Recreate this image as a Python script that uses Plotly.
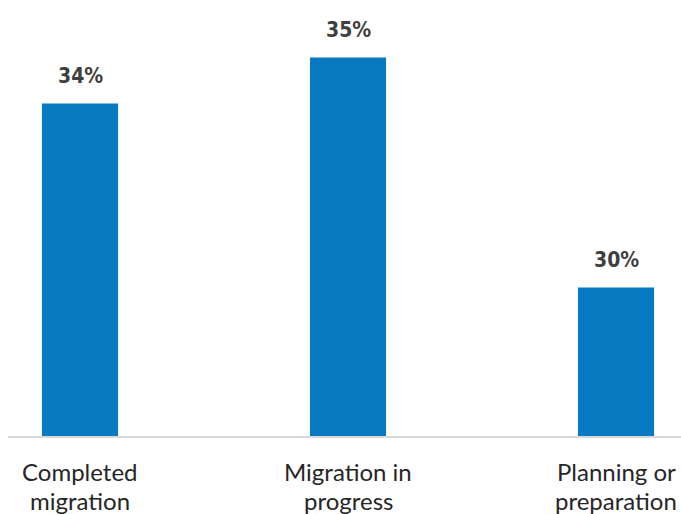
import plotly.graph_objects as go

# Survey results: stage of migration
categories = [["Completed", "migration"], ["Migration in", "progress"], ["Planning or", "preparation"]]
values = [34, 35, 30]
value_labels = ["34%", "35%", "30%"]

positions = list(range(len(categories)))
bar_color = "#0679c1"
label_color = "#3f3f3f"

fig = go.Figure()
fig.add_trace(go.Bar(
    x=positions,
    y=values,
    width=0.284,
    marker=dict(color=bar_color, line=dict(width=0)),
    hoverinfo="skip",
))

# Value labels above each bar
for xi, v, t in zip(positions, values, value_labels):
    fig.add_annotation(
        x=xi, y=v, text=f"<b>{t}</b>", showarrow=False,
        xanchor="center", yanchor="bottom", yshift=14,
        font=dict(family="Liberation Sans Narrow, DejaVu Sans Condensed, sans-serif",
                  size=21, color=label_color),
    )

# Two-line category labels under the baseline (tight line spacing)
for xi, lines in zip(positions, categories):
    for k, line in enumerate(lines):
        fig.add_annotation(
            x=xi, xref="x", y=0, yref="paper", text=line, showarrow=False,
            xanchor="center", yanchor="middle", yshift=-34 - 29 * k,
            font=dict(family="Lato, Open Sans, sans-serif", size=24, color="#262626"),
        )

# Baseline
fig.add_shape(type="line", xref="x", yref="paper",
              x0=-0.2687, x1=2.2425, y0=0, y1=0,
              line=dict(color="#d9d9d9", width=2))

fig.update_layout(
    width=681, height=514,
    margin=dict(l=0, r=0, t=0, b=77),
    plot_bgcolor="white", paper_bgcolor="white",
    showlegend=False,
    xaxis=dict(
        range=[-0.2985, 2.2425],
        showticklabels=False,
        showgrid=False, zeroline=False, showline=False, ticks="",
    ),
    yaxis=dict(
        range=[26.75, 36.25],
        visible=False, showgrid=False, zeroline=False,
    ),
)

fig.write_html("out.html")
